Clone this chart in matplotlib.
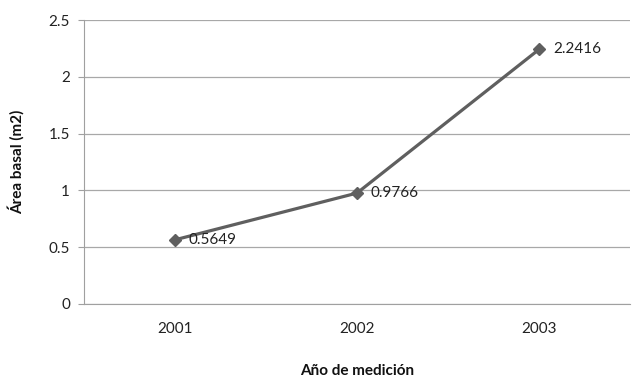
import matplotlib.pyplot as plt

years = ["2001", "2002", "2003"]
area = [0.5649, 0.9766, 2.2416]
yticks = [0, 0.5, 1, 1.5, 2, 2.5]

plt.rcParams['font.family'] = ['Lato', 'DejaVu Sans']

fig = plt.figure(figsize=(6.36, 3.79), dpi=100)
ax = fig.add_axes([0.132, 0.198, 0.8586, 0.749])

x = list(range(len(years)))
ax.plot(x, area, color='#5f5f5f', linewidth=2.3, marker='D', markersize=6.5,
        markerfacecolor='#5f5f5f', markeredgecolor='#5f5f5f', zorder=3)

# value labels to the right of each point
for xi, v in zip(x, area):
    ax.annotate(f"{v:.4f}", (xi, v), xytext=(10, 0), textcoords='offset points',
                ha='left', va='center', fontsize=11, color='#222222')

ax.set_xlim(-0.5, len(years) - 0.5)
ax.set_ylim(0, 2.5)
ax.set_xticks(x)
ax.set_xticklabels(years)
ax.set_yticks(yticks)
ax.set_yticklabels([f"{t:g}" for t in yticks])
ax.grid(axis='y', color='#a8a8a8', linewidth=0.9)
ax.set_axisbelow(True)

for s in ['top', 'right']:
    ax.spines[s].set_visible(False)
ax.spines['left'].set_color('#a0a0a0')
ax.spines['bottom'].set_color('#a0a0a0')
ax.tick_params(axis='y', length=4, color='#a0a0a0', labelsize=11, pad=6, labelcolor='#222222')
ax.tick_params(axis='x', length=0, labelsize=11, pad=13, labelcolor='#222222')

ax.set_xlabel("Año de medición", fontsize=11, fontweight='bold', labelpad=20, color='#111111')
ax.set_ylabel("Área basal (m2)", fontsize=11, fontweight='bold', labelpad=17, color='#111111')

plt.savefig('out.png', dpi=100)
